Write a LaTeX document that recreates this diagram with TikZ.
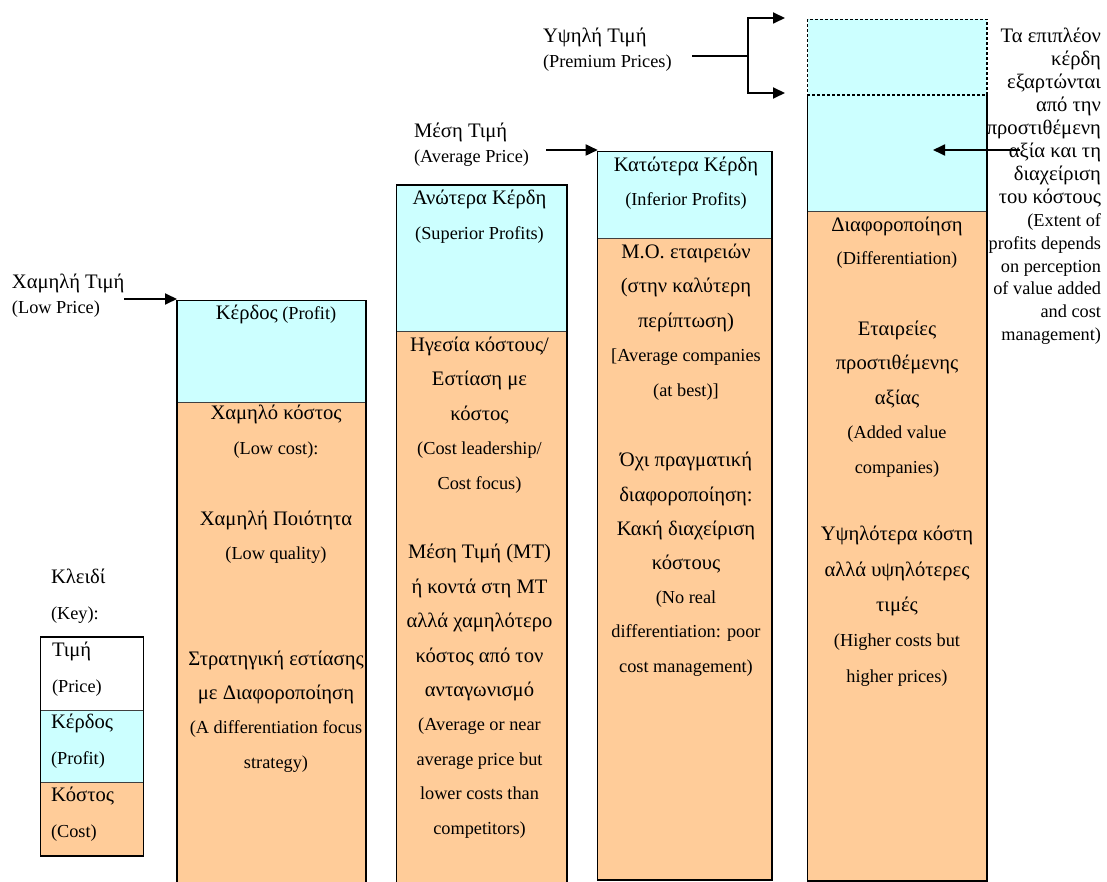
\documentclass[tikz,border=0pt]{standalone}
\usepackage{fontspec}
\setmainfont{Liberation Serif}
\usetikzlibrary{arrows.meta}
\definecolor{profitcyan}{HTML}{CCFFFF}
\definecolor{costorange}{HTML}{FFCC99}
% Greek runs are set a little larger than the Latin ones
\newcommand\G[1]{{\fontsize{20.6}{20}\selectfont #1}}

\begin{document}
\begin{tikzpicture}[x=1pt,y=-1pt,
  every node/.style={inner sep=0pt, outer sep=0pt},
  lbl/.style={font=\fontsize{18.3}{#1}\selectfont, align=left, anchor=base west},
  lbl/.default=25,
  boxtxt/.style={font=\fontsize{18.3}{#1}\selectfont, align=center, anchor=base},
  boxtxt/.default=34.5,
  sidetxt/.style={font=\fontsize{18.3}{22.9}\selectfont, align=right, anchor=base east},
  profit/.style={rectangle, fill=profitcyan, anchor=north west},
  cost/.style={rectangle, fill=costorange, anchor=north west},
  frame/.style={draw=black, line width=1.3pt},
  split/.style={draw=black!75, line width=1pt},
  dashedframe/.style={draw=black, line width=1.3pt, dash pattern=on 3pt off 2pt},
  arr/.style={line width=1.8pt, -{Triangle[length=12pt,width=11pt]}},
  link/.style={line width=1.8pt}
]
\path[use as bounding box] (0,0) rectangle (1107,882);
\clip (0,0) rectangle (1107,882);

% ---------- column 1: low price ----------
\node[profit, minimum width=189pt, minimum height=102pt] (b1p) at (177,300.7) {};
\node[cost, minimum width=189pt, minimum height=500pt] (b1c) at (177,402.7) {};
\draw[split] (b1p.south west) -- (b1p.south east);
\draw[frame] (b1c.south west) -- (b1p.north west) -- (b1p.north east) -- (b1c.south east);

% ---------- column 2: average price, superior profits ----------
\node[profit, minimum width=170.3pt, minimum height=146.7pt] (b2p) at (396.7,185) {};
\node[cost, minimum width=170.3pt, minimum height=570pt] (b2c) at (396.7,331.7) {};
\draw[split] (b2p.south west) -- (b2p.south east);
\draw[frame] (b2c.south west) -- (b2p.north west) -- (b2p.north east) -- (b2c.south east);

% ---------- column 3: inferior profits ----------
\node[profit, minimum width=174.3pt, minimum height=87.3pt] (b3p) at (597.7,151.7) {};
\node[cost, minimum width=174.3pt, minimum height=641pt] (b3c) at (597.7,239) {};
\draw[split] (b3p.south west) -- (b3p.south east);
\draw[frame] (b3p.north west) rectangle (b3c.south east);

% ---------- column 4: premium prices ----------
\node[profit, minimum width=179.3pt, minimum height=75.7pt] (b4x) at (807.7,19.3) {};
\node[profit, minimum width=179.3pt, minimum height=116.7pt] (b4p) at (807.7,95) {};
\node[cost, minimum width=179.3pt, minimum height=669.3pt] (b4c) at (807.7,211.7) {};
\draw[split] (b4p.south west) -- (b4p.south east);
\draw[frame] (b4p.north west) -- (b4c.south west) -- (b4c.south east) -- (b4p.north east);
\draw[dashedframe] (b4x.north west) rectangle (b4x.south east);

% ---------- key ----------
\node[rectangle, fill=white, anchor=north west, minimum width=103.4pt, minimum height=73pt] (kp) at (40.3,637) {};
\node[profit, minimum width=103.4pt, minimum height=72pt] (kf) at (40.3,710) {};
\node[cost, minimum width=103.4pt, minimum height=74pt] (kc) at (40.3,782) {};
\draw[split] (kp.south west) -- (kp.south east);
\draw[split] (kf.south west) -- (kf.south east);
\draw[frame] (kp.north west) rectangle (kc.south east);

% multi-line texts are placed by the baseline of their last line
\node[lbl=36] (keyhead) at (51,619) {\G{Κλειδί}\\(Key):};
\node[lbl=36] (keyprice) at (52,692) {\G{Τιμή}\\(Price)};
\node[lbl=36] (keyprofit) at (51,764) {\G{Κέρδος}\\(Profit)};
\node[lbl=36] (keycost) at (51,837) {\G{Κόστος}\\(Cost)};

% ---------- price labels ----------
\node[lbl] (lowlbl) at (12,313) {\G{Χαμηλή Τιμή}\\(Low Price)};
\node[lbl] (avglbl) at (414,163) {\G{Μέση Τιμή}\\(Average Price)};
\node[lbl] (premlbl) at (543,68) {\G{Υψηλή Τιμή}\\(Premium Prices)};

% ---------- column texts ----------
\node[boxtxt] (t1a) at (276,319) {\G{Κέρδος} (Profit)};
\node[boxtxt=35] (t1b) at (276,454) {\G{Χαμηλό κόστος}\\(Low cost):};
\node[boxtxt=34] (t1c) at (276,559) {\G{Χαμηλή Ποιότητα}\\(Low quality)};
\node[boxtxt=34.3] (t1d) at (276,768) {\G{Στρατηγική εστίασης}\\\G{με Διαφοροποίηση}\\(A differentiation focus\\strategy)};

\node[boxtxt=35] (t2a) at (479.5,240) {\G{Ανώτερα Κέρδη}\\(Superior Profits)};
\node[boxtxt=34.5] (t2b) at (479.5,489) {\G{Ηγεσία κόστους/}\\\G{Εστίαση με}\\\G{κόστος}\\(Cost leadership/\\Cost focus)};
\node[boxtxt=34.4] (t2c) at (479.5,834) {\G{Μέση Τιμή (ΜΤ)}\\\G{ή κοντά στη ΜΤ}\\\G{αλλά χαμηλότερο}\\\G{κόστος από τον}\\\G{ανταγωνισμό}\\(Average or near\\average price but\\lower costs than\\competitors)};

\node[boxtxt=34] (t3a) at (686,206) {\G{Κατώτερα Κέρδη}\\(Inferior Profits)};
\node[boxtxt=34.5] (t3b) at (686,396) {\G{Μ.Ο. εταιρειών}\\\G{(στην καλύτερη}\\\G{περίπτωση)}\\{[}Average companies\\(at best)]};
\node[boxtxt=34.2] (t3c) at (686,672) {\G{Όχι πραγματική}\\\G{διαφοροποίηση:}\\\G{Κακή διαχείριση}\\\G{κόστους}\\(No real\\differentiation: poor\\cost management)};

\node[boxtxt=33] (t4a) at (897,265) {\G{Διαφοροποίηση}\\(Differentiation)};
\node[boxtxt=34.5] (t4b) at (897,473) {\G{Εταιρείες}\\\G{προστιθέμενης}\\\G{αξίας}\\(Added value\\companies)};
\node[boxtxt=35.3] (t4c) at (897,682) {\G{Υψηλότερα κόστη}\\\G{αλλά υψηλότερες}\\\G{τιμές}\\(Higher costs but\\higher prices)};

% ---------- side note ----------
\node[sidetxt] (side) at (1101,340.7) {\G{Τα επιπλέον}\\\G{κέρδη}\\\G{εξαρτώνται}\\\G{από την}\\\G{προστιθέμενη}\\\G{αξία και τη}\\\G{διαχείριση}\\\G{του κόστους}\\(Extent of\\profits depends\\on perception\\of value added\\and cost\\management)};

% ---------- connectors ----------
\coordinate (lowfrom) at (124,299);
\draw[arr] (lowfrom) -- (lowfrom -| b1p.north west);

\coordinate (avgfrom) at (546,150);
\draw[arr] (avgfrom) -- (avgfrom -| b3p.north west);

\coordinate (premfrom) at (692,56);
\coordinate (fork) at (748,56);
\coordinate (tipup) at (785,18);
\coordinate (tipdn) at (785,93);
\draw[link] (premfrom) -- (fork);
\draw[arr] (fork) |- (tipup);
\draw[arr] (fork) |- (tipdn);

\coordinate (sidefrom) at (1020,150);
\coordinate (sideto) at (933,150);
\draw[arr] (sidefrom) -- (sideto);
\end{tikzpicture}
\end{document}
